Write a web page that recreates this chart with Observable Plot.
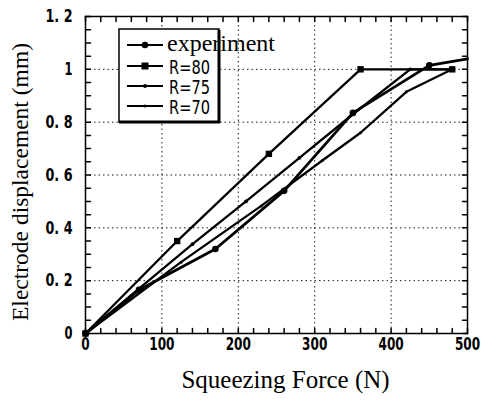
<!DOCTYPE html>
<html>
<head>
<meta charset="utf-8">
<script src="https://cdn.jsdelivr.net/npm/d3@7"></script>
<script src="https://cdn.jsdelivr.net/npm/@observablehq/plot@0.6"></script>
<style>
  html, body { margin: 0; padding: 0; background: white; }
  #wrap { position: relative; width: 481px; height: 401px; }
  #legend { position: absolute; left: 0; top: 0; pointer-events: none; }
</style>
</head>
<body>
<div id="wrap"></div>
<script>
// ---- data ----
const expX = [0, 70, 170, 260, 350, 450, 500];
const expY = [0, 0.165, 0.32, 0.54, 0.835, 1.015, 1.04];
const r80X = [0, 120, 240, 360, 480];
const r80Y = [0, 0.35, 0.68, 1.0, 1.0];
const r75X = [0, 70, 140, 210, 280, 350, 425, 480];
const r75Y = [0, 0.17, 0.338, 0.5, 0.665, 0.83, 1.0, 1.0];
const r70X = [0, 125, 230, 310, 360, 420, 480];
const r70Y = [0, 0.27, 0.483, 0.655, 0.76, 0.915, 1.0];
const xTicks = [0, 100, 200, 300, 400, 500];
const yTicks = [0, 0.2, 0.4, 0.6, 0.8, 1.0, 1.2];
const xMinor = d3.range(0, 501, 20);
const yMinor = d3.range(0, 1.2001, 0.05);
const seriesNames = ["experiment", "R=80", "R=75", "R=70"];

const zip = (xs, ys) => xs.map((x, i) => ({x, y: ys[i]}));
const exp = zip(expX, expY);
const r80 = zip(r80X, r80Y);
const r75 = zip(r75X, r75Y);
const r70 = zip(r70X, r70Y);

const narrow = "'Liberation Sans Narrow', 'DejaVu Sans Condensed', 'DejaVu Sans', sans-serif";
const serif = "'Liberation Serif', 'DejaVu Serif', serif";
const tickShape = {draw(ctx, l) { ctx.moveTo(0, 0); ctx.lineTo(0, -l); }};
const yFmt = d => d === 0 ? "0" : d === 1 ? "1" : d.toFixed(1).replace(".", ". ");

const chart = Plot.plot({
  width: 481, height: 401,
  marginLeft: 85, marginRight: 14, marginTop: 16, marginBottom: 68,
  x: {domain: [0, 500]},
  y: {domain: [0, 1.2]},
  style: "background: white; color: black; overflow: visible;",
  marks: [
    Plot.gridX(xTicks.slice(1, -1), {stroke: "black", strokeOpacity: 0.9, strokeDasharray: "1.5,3"}),
    Plot.gridY(yTicks.slice(1, -1), {stroke: "black", strokeOpacity: 0.9, strokeDasharray: "1.5,3"}),
    // inward ticks
    Plot.vector(xMinor, {x: d => d, frameAnchor: "bottom", length: 5, rotate: 0, anchor: "start", shape: tickShape, stroke: "black"}),
    Plot.vector(xMinor, {x: d => d, frameAnchor: "top", length: 5, rotate: 180, anchor: "start", shape: tickShape, stroke: "black"}),
    Plot.vector(yMinor, {y: d => d, frameAnchor: "left", length: 5, rotate: 90, anchor: "start", shape: tickShape, stroke: "black"}),
    Plot.vector(yMinor, {y: d => d, frameAnchor: "right", length: 5, rotate: -90, anchor: "start", shape: tickShape, stroke: "black"}),
    Plot.axisX(xTicks, {tickSize: 0, tickPadding: 4, fontFamily: narrow, fontWeight: "bold", fontSize: 18, label: null}),
    Plot.axisY(yTicks, {tickSize: 0, tickPadding: 13, tickFormat: yFmt, fontFamily: narrow, fontWeight: "bold", fontSize: 18, label: null}),
    Plot.frame({stroke: "black", strokeWidth: 1.5}),
    // series
    Plot.line(r80, {x: "x", y: "y", stroke: "black", strokeWidth: 2.3}),
    Plot.line(r75, {x: "x", y: "y", stroke: "black", strokeWidth: 2.3}),
    Plot.line(r70, {x: "x", y: "y", stroke: "black", strokeWidth: 2.3}),
    Plot.line(exp, {x: "x", y: "y", stroke: "black", strokeWidth: 2.8}),
    Plot.dot(r80, {x: "x", y: "y", symbol: "square", r: 3.6, fill: "black"}),
    Plot.dot(r75, {x: "x", y: "y", r: 1.9, fill: "black"}),
    Plot.dot(r70, {x: "x", y: "y", r: 1.5, fill: "black"}),
    Plot.dot(exp.filter(d => d.x < 500), {x: "x", y: "y", r: 3.3, fill: "black"}),
    // axis titles
    Plot.text(["Squeezing Force (N)"], {frameAnchor: "bottom", text: d => d, textAnchor: "middle", lineAnchor: "middle", dx: 9, dy: 46, fontFamily: serif, fontSize: 25, fill: "black"}),
    Plot.text(["Electrode displacement (mm)"], {frameAnchor: "left", text: d => d, textAnchor: "middle", lineAnchor: "middle", rotate: -90, dx: -65, dy: 7, fontFamily: serif, fontSize: 23.5, fill: "black"})
  ]
});
document.getElementById("wrap").appendChild(chart);

// squeeze the tick labels to the narrow face of the original
const squeeze = (t, perChar) => {
  const s = t.textContent;
  const w = s.replace(/ /g, "").length * perChar + (s.includes(" ") ? 3 : 0);
  t.setAttribute("textLength", w);
  t.setAttribute("lengthAdjust", "spacingAndGlyphs");
};
chart.querySelectorAll('g[aria-label="x-axis tick label"] text').forEach(t => squeeze(t, 8.4));
chart.querySelectorAll('g[aria-label="y-axis tick label"] text').forEach(t => squeeze(t, 8.0));

// ---- legend ----
const ns = "http://www.w3.org/2000/svg";
const leg = document.createElementNS(ns, "svg");
leg.setAttribute("id", "legend");
leg.setAttribute("width", 481);
leg.setAttribute("height", 401);
const el = (tag, attrs, text) => {
  const e = document.createElementNS(ns, tag);
  for (const k in attrs) e.setAttribute(k, attrs[k]);
  if (text) e.textContent = text;
  leg.appendChild(e);
  return e;
};
el("rect", {x: 119, y: 29, width: 100, height: 93, fill: "white", stroke: "black", "stroke-width": 1.5});
el("line", {x1: 219, y1: 30, x2: 219, y2: 123, stroke: "black", "stroke-width": 3});
el("line", {x1: 119, y1: 122, x2: 220, y2: 122, stroke: "black", "stroke-width": 3});
const rows = [45, 66, 86, 106];
const markers = ["circle", "square", "dot", "tiny"];
seriesNames.forEach((name, i) => {
  const y = rows[i];
  el("line", {x1: 127, y1: y, x2: 163, y2: y, stroke: "black", "stroke-width": 2.2});
  if (markers[i] === "circle") el("circle", {cx: 145, cy: y, r: 3.3, fill: "black"});
  if (markers[i] === "square") el("rect", {x: 141.5, y: y - 3.5, width: 7, height: 7, fill: "black"});
  if (markers[i] === "dot") el("circle", {cx: 145, cy: y, r: 1.9, fill: "black"});
  if (markers[i] === "tiny") el("circle", {cx: 145, cy: y, r: 1.5, fill: "black"});
  if (i === 0) {
    el("text", {x: 167, y: y + 6, "font-family": serif, "font-size": 24, fill: "black"}, name);
  } else {
    el("text", {x: 169, y: y + 7.5, "font-family": narrow, "font-size": 20, textLength: 41, lengthAdjust: "spacingAndGlyphs", fill: "black"}, name);
  }
});
document.getElementById("wrap").appendChild(leg);
</script>
</body>
</html>
